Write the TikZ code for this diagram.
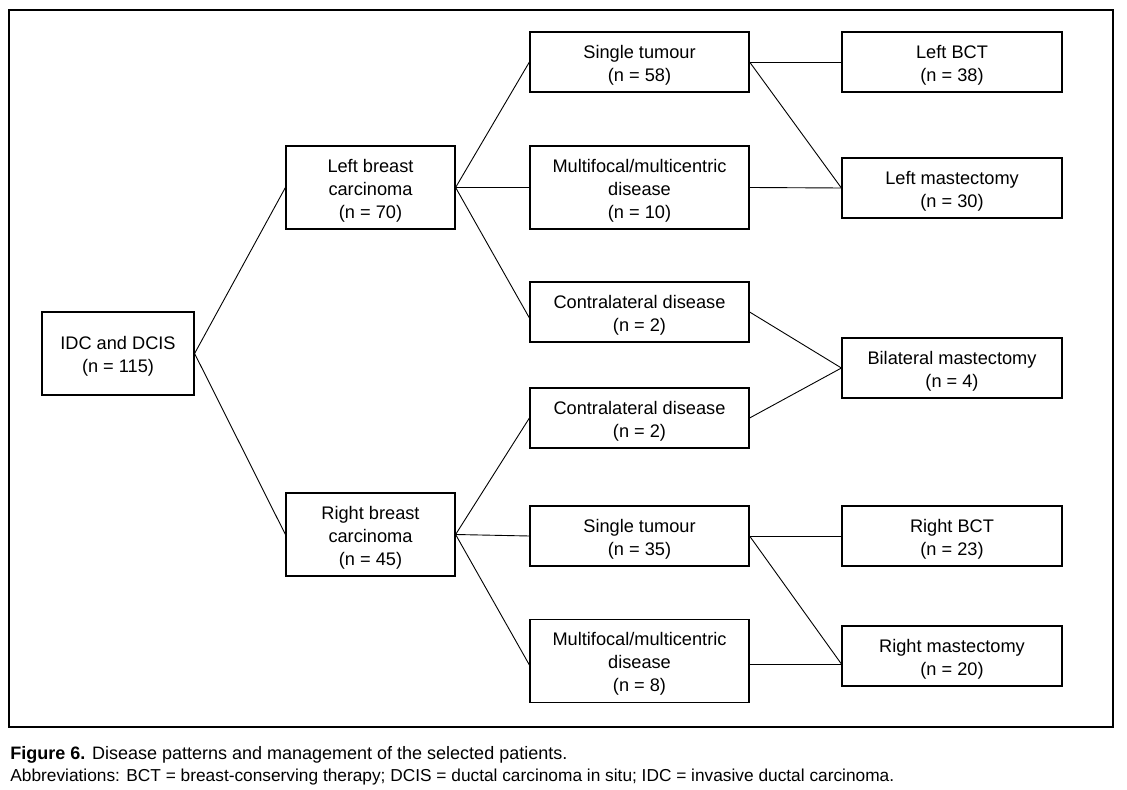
\documentclass[tikz,border=0pt]{standalone}
\usepackage{fontspec}
\setmainfont{Liberation Sans}
\usetikzlibrary{calc}
\newcommand\toppad{\rule{0pt}{9.4pt}}
\begin{document}
\begin{tikzpicture}[x=0.5pt,y=-0.5pt,
  box/.style={draw=black,line width=0.6pt,align=center,inner sep=0pt,
    font=\fontsize{9.1pt}{11.5pt}\selectfont},
  mid/.style={box,minimum width=109.5pt},
  tall/.style={minimum height=41.5pt},
  short/.style={minimum height=30pt},
  conn/.style={draw=black,line width=0.45pt},
  captext/.style={anchor=base west,inner sep=0pt,font=\fontsize{8.65pt}{10pt}\selectfont}]
\useasboundingbox (0,0) rectangle (1127,790);
\draw[line width=0.6pt] (9,10) rectangle (1113,727);
\node[box,minimum width=76pt,tall] (idc) at (118,353.5) {\toppad IDC and DCIS\\(n = 115)};
\node[box,minimum width=84.5pt,tall] (lb) at (370.5,187.5) {\toppad Left breast\\carcinoma\\(n = 70)};
\node[box,minimum width=84.5pt,tall] (rb) at (370.5,534.5) {\toppad Right breast\\carcinoma\\(n = 45)};
\node[mid,short] (st1) at (639.5,62) {\toppad Single tumour\\(n = 58)};
\node[mid,tall] (mf1) at (639.5,187.5) {\toppad Multifocal/multicentric\\disease\\(n = 10)};
\node[mid,short] (cd1) at (639.5,312) {\toppad Contralateral disease\\(n = 2)};
\node[mid,short] (cd2) at (639.5,418) {\toppad Contralateral disease\\(n = 2)};
\node[mid,short] (st2) at (639.5,536) {\toppad Single tumour\\(n = 35)};
\node[mid,tall] (mf2) at (639.5,661) {\toppad Multifocal/multicentric\\disease\\(n = 8)};
\node[box,minimum width=110pt,short] (lbct) at (952,62) {\toppad Left BCT\\(n = 38)};
\node[box,minimum width=110pt,short] (lm) at (952,188) {\toppad Left mastectomy\\(n = 30)};
\node[box,minimum width=110pt,short] (bm) at (952,368) {\toppad Bilateral mastectomy\\(n = 4)};
\node[box,minimum width=110pt,short] (rbct) at (952,536) {\toppad Right BCT\\(n = 23)};
\node[box,minimum width=110pt,short] (rm) at (952,656) {\toppad Right mastectomy\\(n = 20)};
\coordinate (cd1in) at ($(cd1.west)+(0,6)$);
\coordinate (mf2in) at ($(mf2.west)+(0,4)$);
\coordinate (mf2out) at ($(mf2.east)+(0,3)$);
\coordinate (rmin) at (rm.west |- mf2out);
\draw[conn] (lb.west) -- (idc.east) -- (rb.west);
\draw[conn] (lb.east) -- (st1.west);
\draw[conn] (lb.east) -- (mf1.west);
\draw[conn] (lb.east) -- (cd1in);
\draw[conn] (rb.east) -- (cd2.west);
\draw[conn] (rb.east) -- (st2.west);
\draw[conn] (rb.east) -- (mf2in);
\draw[conn] (st1.east) -- (lbct.west);
\draw[conn] (st1.east) -- (lm.west);
\draw[conn] (mf1.east) -- (lm.west);
\draw[conn] (cd1.east) -- (bm.west);
\draw[conn] (cd2.east) -- (bm.west);
\draw[conn] (st2.east) -- (rbct.west);
\draw[conn] (st2.east) -- (rmin);
\draw[conn] (mf2out) -- (rmin);
\node[captext,font=\fontsize{9pt}{10pt}\selectfont] (c1) at (10,759) {\textbf{Figure 6.} Disease patterns and management of the selected patients.};
\node[captext] (c2) at (10,781) {Abbreviations: BCT = breast-conserving therapy; DCIS = ductal carcinoma in situ; IDC = invasive ductal carcinoma.};
\end{tikzpicture}
\end{document}
